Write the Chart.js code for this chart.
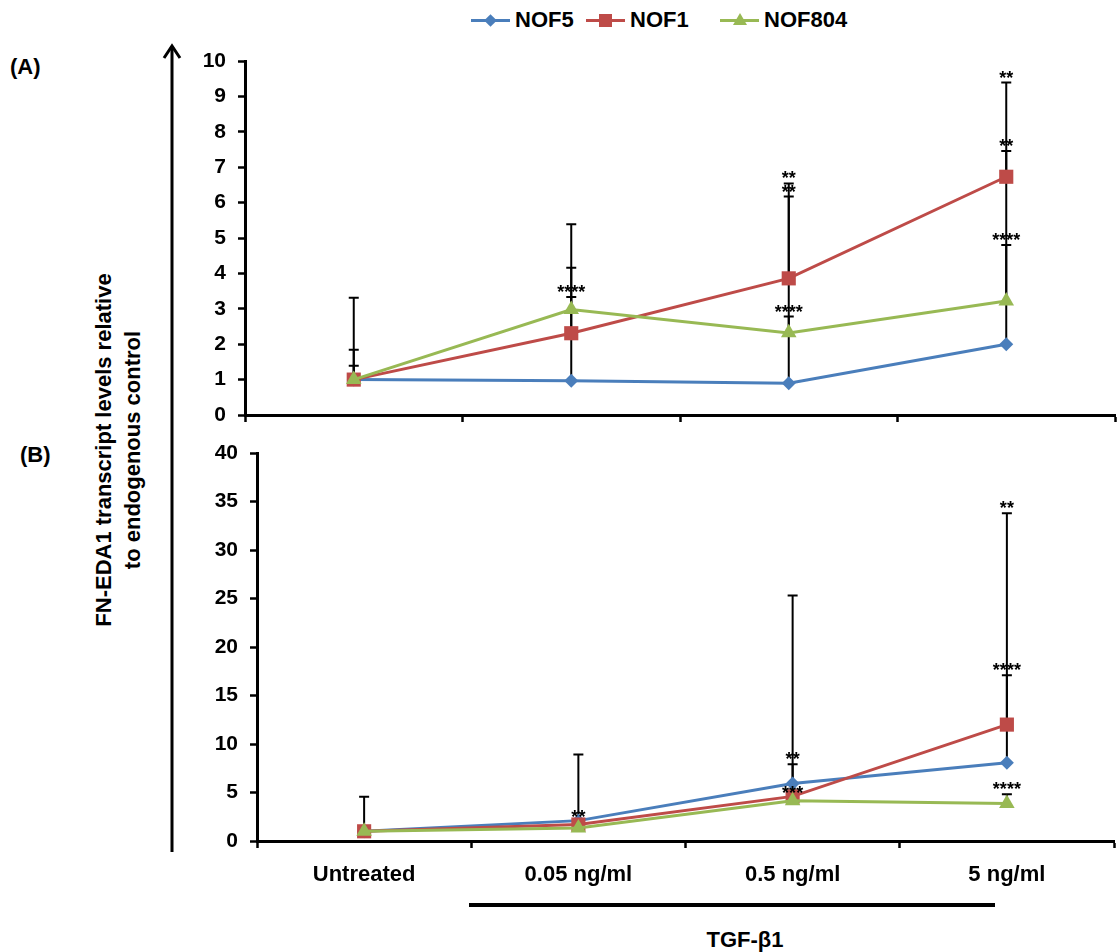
<!DOCTYPE html>
<html>
<head>
<meta charset="utf-8">
<script src="https://cdn.jsdelivr.net/npm/chart.js@4"></script>
<style>
  body { margin: 0; background: #fff; font-family: "Liberation Sans", Arial, sans-serif; font-weight: bold; color: #000; }
  #page { position: relative; width: 1117px; height: 952px; overflow: hidden; }
  .abs { position: absolute; }
  canvas { position: absolute; }
  .leg { position: absolute; top: 8px; height: 24px; display: flex; align-items: center; font-size: 22px; line-height: 24px; }
  .leg .mark { position: relative; width: 39px; height: 3px; margin-right: 5px; }
  .leg .mark i { position: absolute; left: 50%; top: 50%; display: block; }
  .panel { font-size: 22px; line-height: 24px; }
  #ytitle { left: -131px; top: 420px; width: 500px; height: 60px; text-align: center; font-size: 22px; line-height: 29px; transform: rotate(-90deg); }
  #tgfBar { left: 469px; top: 903px; width: 526px; height: 4px; background: #000; }
  #tgfLabel { left: 645px; top: 928px; width: 200px; text-align: center; font-size: 22px; line-height: 24px; }
</style>
</head>
<body>
<div id="page">
  <div class="leg" style="left:471px">
    <span class="mark" style="background:#4A7EBB"><i style="width:9px;height:9px;margin:-4.5px 0 0 -4.5px;background:#4A7EBB;transform:rotate(45deg)"></i></span>NOF5
  </div>
  <div class="leg" style="left:586px">
    <span class="mark" style="background:#BE4B48"><i style="width:13px;height:13px;margin:-6.5px 0 0 -6.5px;background:#BE4B48"></i></span>NOF1
  </div>
  <div class="leg" style="left:720px">
    <span class="mark" style="background:#98B954"><i style="width:0;height:0;margin:-7px 0 0 -7px;border-left:7px solid transparent;border-right:7px solid transparent;border-bottom:12px solid #98B954"></i></span>NOF804
  </div>

  <div class="abs panel" style="left:10px;top:55px">(A)</div>
  <div class="abs panel" style="left:20px;top:443px">(B)</div>
  <div class="abs" id="ytitle">FN-EDA1 transcript levels relative<br>to endogenous control</div>

  <svg class="abs" style="left:160px;top:40px" width="24" height="815">
    <line x1="12" y1="6" x2="12" y2="812" stroke="#000" stroke-width="3"/>
    <polyline points="4,18 12,6 20,18" fill="none" stroke="#000" stroke-width="3"/>
  </svg>

  <canvas id="chartA" width="957" height="404" style="left:170px;top:36px"></canvas>
  <canvas id="chartB" width="956" height="472" style="left:170px;top:428px"></canvas>

  <div class="abs" id="tgfBar"></div>
  <div class="abs" id="tgfLabel">TGF-β1</div>
</div>

<script>
const categories = ['Untreated', '0.05 ng/ml', '0.5 ng/ml', '5 ng/ml'];

// (A) mean fold change and upper error (SD)
const nof5A = [1.0, 0.97, 0.9, 2.0];
const nof1A = [1.0, 2.31, 3.86, 6.73];
const nof804A = [1.0, 2.98, 2.32, 3.22];
const nof5ErrA = [0.39, 3.19, 5.27, 7.39];
const nof1ErrA = [2.31, 3.08, 2.68, 0.73];
const nof804ErrA = [0.84, 0.35, 0.46, 1.58];
const nof5StarsA = ['', '', '**', '**'];
const nof1StarsA = ['', '', '**', '**'];
const nof804StarsA = ['', '****', '****', '****'];

// (B)
const nof5B = [1.0, 2.1, 5.93, 8.06];
const nof1B = [1.0, 1.7, 4.6, 12.0];
const nof804B = [1.0, 1.35, 4.15, 3.86];
const nof5ErrB = [0.2, 6.83, 1.97, 25.74];
const nof1ErrB = [3.55, 0.3, 20.7, 5.1];
const nof804ErrB = [0.2, 0.2, 0.3, 0.96];
const nof5StarsB = ['', '', '**', '**'];
const nof1StarsB = ['', '**', '', '****'];
const nof804StarsB = ['', '', '***', '****'];

const yTicksA = { max: 10, step: 1 };
const yTicksB = { max: 40, step: 5 };

Chart.defaults.font.family = '"Liberation Sans", Arial, sans-serif';
Chart.defaults.font.weight = 'bold';
Chart.defaults.color = '#000';

// upward error bars behind the lines, significance stars above the caps
const errorBars = {
  id: 'errorBars',
  beforeDatasetsDraw(chart) {
    const ctx = chart.ctx;
    const y = chart.scales.y;
    ctx.save();
    ctx.strokeStyle = '#000';
    ctx.lineWidth = 2;
    chart.data.datasets.forEach((ds, di) => {
      const meta = chart.getDatasetMeta(di);
      ds.errors.forEach((e, i) => {
        const px = meta.data[i].x;
        const y0 = y.getPixelForValue(ds.data[i]);
        const y1 = y.getPixelForValue(ds.data[i] + e);
        ctx.beginPath();
        ctx.moveTo(px, y0);
        ctx.lineTo(px, y1);
        ctx.moveTo(px - 5, y1);
        ctx.lineTo(px + 5, y1);
        ctx.stroke();
      });
    });
    ctx.restore();
  },
  afterDatasetsDraw(chart) {
    const ctx = chart.ctx;
    const y = chart.scales.y;
    ctx.save();
    ctx.fillStyle = '#000';
    ctx.font = 'bold 18px "Liberation Sans", Arial, sans-serif';
    ctx.textAlign = 'center';
    ctx.textBaseline = 'alphabetic';
    chart.data.datasets.forEach((ds, di) => {
      const meta = chart.getDatasetMeta(di);
      ds.stars.forEach((s, i) => {
        if (!s) return;
        const px = meta.data[i].x;
        const y1 = y.getPixelForValue(ds.data[i] + ds.errors[i]);
        ctx.fillText(s, px, y1 + 1);
      });
    });
    ctx.restore();
  }
};

function series(label, data, errors, stars, color, style, radius, order) {
  return {
    label, data, errors, stars,
    borderColor: color,
    backgroundColor: color,
    borderWidth: 3,
    pointStyle: style,
    pointRadius: radius,
    pointBorderWidth: 0,
    pointBackgroundColor: color,
    tension: 0,
    order
  };
}

function buildChart(id, datasets, yt, opts) {
  return new Chart(document.getElementById(id), {
    type: 'line',
    data: { labels: categories, datasets },
    options: {
      responsive: false,
      animation: false,
      layout: { padding: { top: 25, right: 12, left: 0, bottom: 0 } },
      plugins: { legend: { display: false }, tooltip: { enabled: false } },
      scales: {
        x: {
          offset: true,
          grid: { offset: true, drawOnChartArea: false, tickLength: 7, tickWidth: 2.5, tickColor: '#000' },
          border: { color: '#000', width: 3 },
          ticks: { display: opts.showX, font: { size: 22, weight: 'bold' }, padding: 14, maxRotation: 0, autoSkip: false },
          afterFit: s => { s.height = opts.xHeight; }
        },
        y: {
          min: 0,
          max: yt.max,
          ticks: { stepSize: yt.step, font: { size: 21, weight: 'bold' }, padding: 12 },
          grid: { drawOnChartArea: false, tickLength: 7, tickWidth: 2.5, tickColor: '#000' },
          border: { color: '#000', width: 3 },
          afterFit: s => { s.width = opts.yWidth; }
        }
      }
    },
    plugins: [errorBars]
  });
}

buildChart('chartA', [
  series('NOF5', nof5A, nof5ErrA, nof5StarsA, '#4A7EBB', 'rectRot', 7, 3),
  series('NOF1', nof1A, nof1ErrA, nof1StarsA, '#BE4B48', 'rect', 10, 2),
  series('NOF804', nof804A, nof804ErrA, nof804StarsA, '#98B954', 'triangle', 9, 1)
], yTicksA, { xHeight: 25, yWidth: 75, showX: false });

buildChart('chartB', [
  series('NOF5', nof5B, nof5ErrB, nof5StarsB, '#4A7EBB', 'rectRot', 7, 3),
  series('NOF1', nof1B, nof1ErrB, nof1StarsB, '#BE4B48', 'rect', 10, 2),
  series('NOF804', nof804B, nof804ErrB, nof804StarsB, '#98B954', 'triangle', 9, 1)
], yTicksB, { xHeight: 59, yWidth: 87, showX: true });
</script>
</body>
</html>
